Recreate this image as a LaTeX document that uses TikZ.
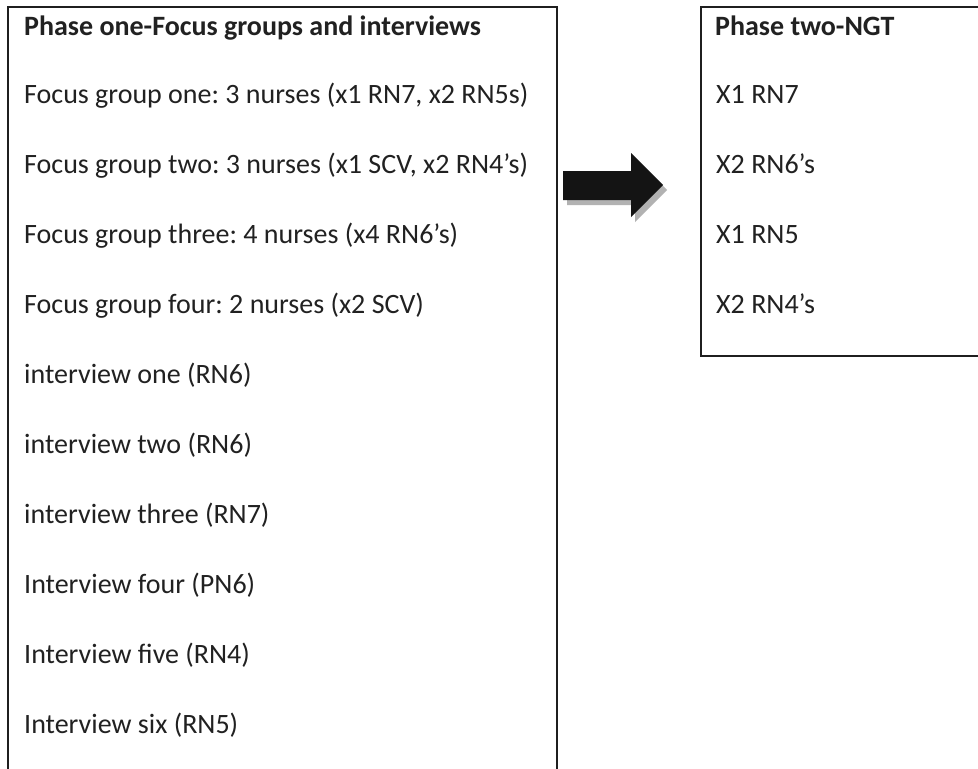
\documentclass[tikz,border=0pt]{standalone}
\usepackage{fontspec}
\setmainfont{Carlito}
\frenchspacing
\begin{document}
\begin{tikzpicture}[x=1pt,y=-1pt,
  boxline/.style={draw=black!88, line width=1.8pt},
  item/.style={anchor=base west, inner sep=0pt, text=black!87, font=\fontsize{28}{32}\selectfont},
  head/.style={item, font=\fontsize{28}{32}\selectfont\bfseries}]
\useasboundingbox (0,0) rectangle (978,769);
\clip (0,0) rectangle (978,769);
\fill[white] (0,0) rectangle (978,769);
% boxes
\draw[boxline] (8,800) -- (8,7) -- (557,7) -- (557,800);
\draw[boxline] (1000,356) -- (701,356) -- (701,7) -- (1000,7);
% left texts
\node[head] (p1) at (24,35) {Phase one-Focus groups and interviews};
\node[item] (f1) at (24,103) {Focus group one: 3 nurses (x1 RN7, x2 RN5s)};
\node[item] (f2) at (24,173) {Focus group two: 3 nurses (x1 SCV, x2 RN4’s)};
\node[item] (f3) at (24,243) {Focus group three: 4 nurses (x4 RN6’s)};
\node[item] (f4) at (24,313) {Focus group four: 2 nurses (x2 SCV)};
\node[item] (i1) at (24,383) {interview one (RN6)};
\node[item] (i2) at (24,453) {interview two (RN6)};
\node[item] (i3) at (24,523) {interview three (RN7)};
\node[item] (i4) at (24,593) {Interview four (PN6)};
\node[item] (i5) at (24,663) {Interview five (RN4)};
\node[item] (i6) at (24,733) {Interview six (RN5)};
% right texts
\node[head] (p2) at (715,35) {Phase two-NGT};
\node[item] (r1) at (716,103) {X1 RN7};
\node[item] (r2) at (716,173) {X2 RN6’s};
\node[item] (r3) at (716,243) {X1 RN5};
\node[item] (r4) at (716,313) {X2 RN4’s};
% arrow with shadow
\fill[black!30, shift={(4,5)}] (563,171) -- (631,171) -- (631,153) -- (663,185) -- (631,217) -- (631,200) -- (563,200) -- cycle;
\fill[black!92] (563,171) -- (631,171) -- (631,153) -- (663,185) -- (631,217) -- (631,200) -- (563,200) -- cycle;
\end{tikzpicture}
\end{document}
